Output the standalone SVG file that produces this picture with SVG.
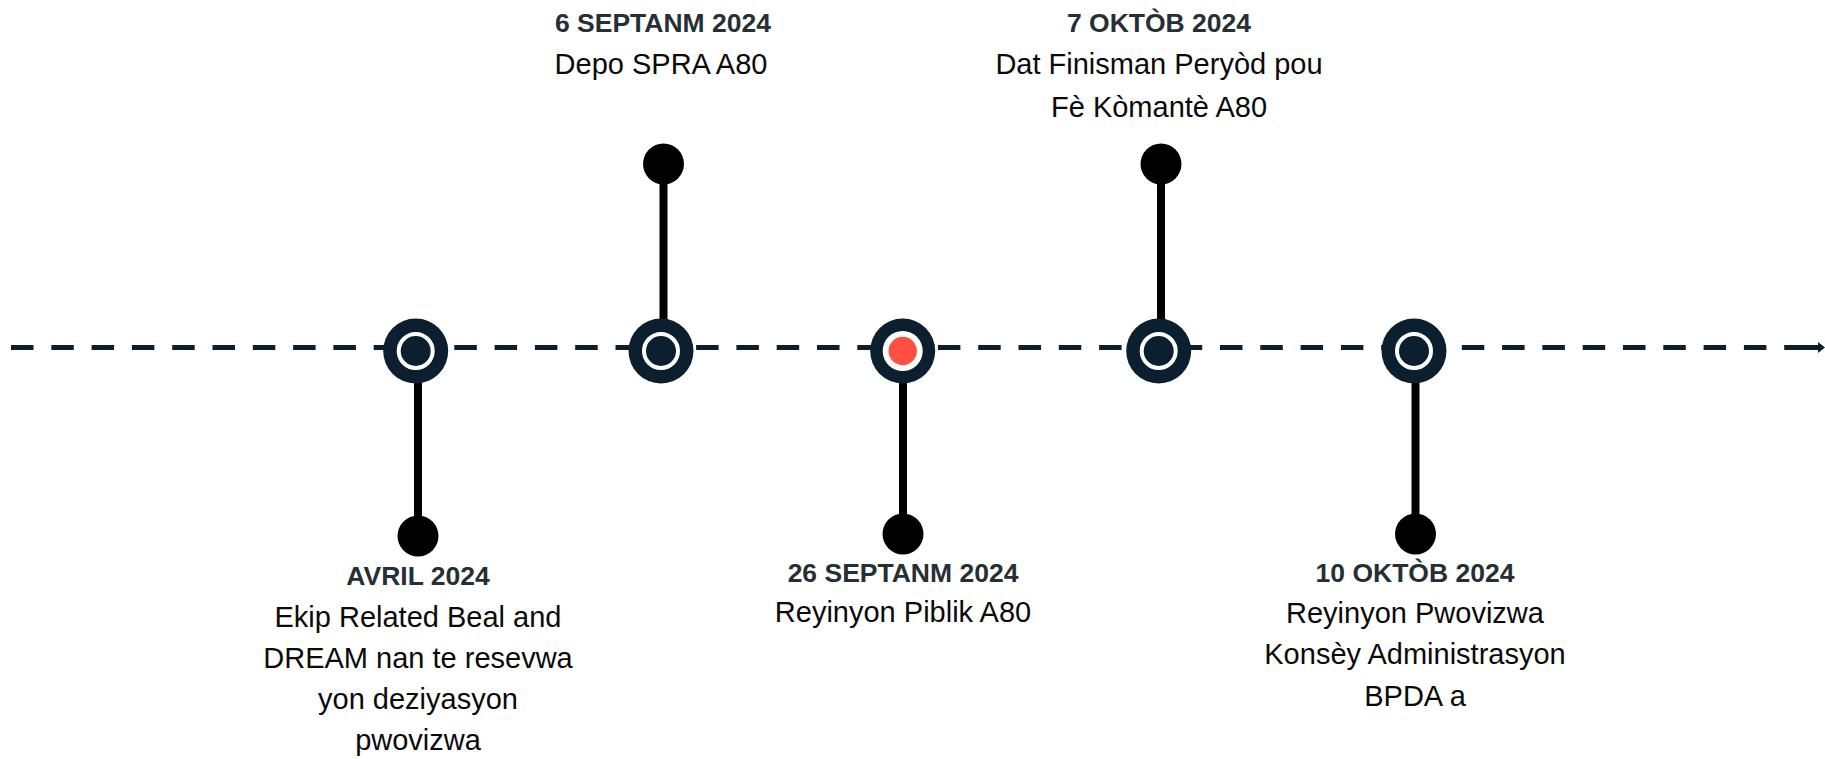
<svg xmlns="http://www.w3.org/2000/svg" width="1825" height="759" viewBox="0 0 1825 759">
<style>
.bg{fill:#ffffff}
.axis{stroke:#0b1f2e;stroke-width:5;stroke-dasharray:22.5 17.8;fill:none}
.stem{stroke:#000;stroke-width:8}
.dot{fill:#000}
.outer{fill:#0b1f2e}
.ring{fill:#0b1f2e;stroke:#fff;stroke-width:4}
.title{font-family:"Liberation Sans",Arial,sans-serif;font-weight:bold;font-size:26.5px;fill:#263034;text-anchor:middle}
.body{font-family:"Liberation Sans",Arial,sans-serif;font-size:29px;fill:#0a0a0a;text-anchor:middle}
</style>
<rect class="bg" x="0" y="0" width="1825" height="759"/>
<g id="connectors">
<line class="axis" x1="11" y1="347.5" x2="1808" y2="347.5"/>
<line x1="1795" y1="347.5" x2="1821" y2="347.5" stroke="#0b1f2e" stroke-width="5"/>
<polygon points="1818,342 1825,347.5 1818,353" fill="#0b1f2e"/>
<line class="stem" x1="418" y1="370" x2="418" y2="536"/>
<line class="stem" x1="663.5" y1="164" x2="663.5" y2="330"/>
<line class="stem" x1="903" y1="370" x2="903" y2="534"/>
<line class="stem" x1="1161" y1="164" x2="1161" y2="330"/>
<line class="stem" x1="1415.5" y1="370" x2="1415.5" y2="534"/>
</g>
<g id="node-avril">
<circle class="outer" cx="415.7" cy="351" r="32.5"/>
<circle class="ring" cx="415.7" cy="351" r="17"/>
<circle class="dot" cx="418" cy="536" r="20.5"/>
<text class="title" x="418" y="585">AVRIL 2024</text>
<text class="body" x="418" y="627">Ekip Related Beal and</text>
<text class="body" x="418" y="668">DREAM nan te resevwa</text>
<text class="body" x="418" y="709">yon deziyasyon</text>
<text class="body" x="418" y="750">pwovizwa</text>
</g>
<g id="node-6sep">
<circle class="outer" cx="661" cy="351" r="32.5"/>
<circle class="ring" cx="661" cy="351" r="17"/>
<circle class="dot" cx="663.5" cy="164" r="20.5"/>
<text class="title" x="663" y="32">6 SEPTANM 2024</text>
<text class="body" x="661" y="74">Depo SPRA A80</text>
</g>
<g id="node-26sep">
<circle class="outer" cx="902.7" cy="351" r="32.5"/>
<circle cx="902.7" cy="351" r="20" fill="#fff"/>
<circle cx="902.7" cy="351" r="14.2" fill="#ff5043"/>
<circle class="dot" cx="903" cy="534" r="20.5"/>
<text class="title" x="903" y="582">26 SEPTANM 2024</text>
<text class="body" x="903" y="622">Reyinyon Piblik A80</text>
</g>
<g id="node-7okt">
<circle class="outer" cx="1158.7" cy="351" r="32.5"/>
<circle class="ring" cx="1158.7" cy="351" r="17"/>
<circle class="dot" cx="1161" cy="164" r="20.5"/>
<text class="title" x="1159" y="32">7 OKTÒB 2024</text>
<text class="body" x="1159" y="74">Dat Finisman Peryòd pou</text>
<text class="body" x="1159" y="117">Fè Kòmantè A80</text>
</g>
<g id="node-10okt">
<circle class="outer" cx="1414" cy="351" r="32.5"/>
<circle class="ring" cx="1414" cy="351" r="17"/>
<circle class="dot" cx="1415.5" cy="534" r="20.5"/>
<text class="title" x="1415" y="582">10 OKTÒB 2024</text>
<text class="body" x="1415" y="623">Reyinyon Pwovizwa</text>
<text class="body" x="1415" y="664">Konsèy Administrasyon</text>
<text class="body" x="1415" y="706">BPDA a</text>
</g>
</svg>
